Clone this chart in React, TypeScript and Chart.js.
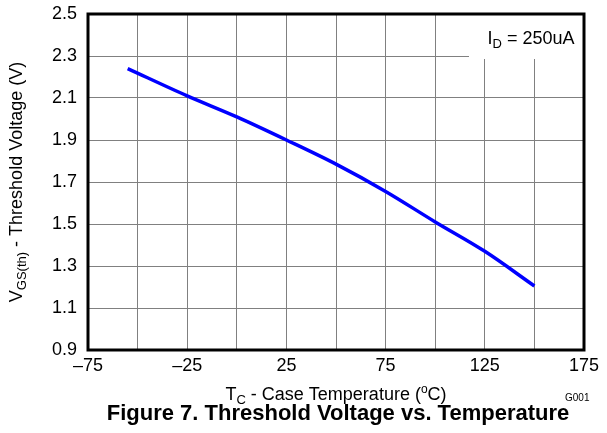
import React, { useEffect, useRef } from "react";
import { Chart, registerables } from "chart.js";

Chart.register(...registerables);

const temps = [-55, -25, 0, 25, 50, 75, 100, 125, 150];
const vth = [2.24, 2.11, 2.01, 1.9, 1.785, 1.655, 1.51, 1.37, 1.205];
const xTickValues = [-75, -25, 25, 75, 125, 175];
const xTickLabels = ["\u201375", "\u201325", "25", "75", "125", "175"];
const yMin = 0.9;
const yMax = 2.5;
const yStep = 0.2;
const xMin = -75;
const xMax = 175;
const xStep = 25;

const FONT = "'Liberation Sans', Arial, sans-serif";

function drawPieces(ctx: CanvasRenderingContext2D, pieces: { t: string; size: number; dy: number; bold?: boolean }[], cx: number, baseY: number) {
  let total = 0;
  for (const p of pieces) {
    ctx.font = `${p.bold ? "bold " : ""}${p.size}px ${FONT}`;
    total += ctx.measureText(p.t).width;
  }
  let x = cx - total / 2;
  for (const p of pieces) {
    ctx.font = `${p.bold ? "bold " : ""}${p.size}px ${FONT}`;
    ctx.fillText(p.t, x, baseY + p.dy);
    x += ctx.measureText(p.t).width;
  }
}

const decorPlugin = {
  id: "decor",
  beforeDatasetsDraw(chart: any) {
    const { ctx, chartArea } = chart;
    ctx.save();
    ctx.fillStyle = "#ffffff";
    ctx.fillRect(chartArea.right - 115, chartArea.top, 115, 45);
    ctx.restore();
  },
  afterDraw(chart: any) {
    const { ctx, chartArea } = chart;
    ctx.save();
    ctx.strokeStyle = "#000000";
    ctx.lineWidth = 3;
    ctx.strokeRect(chartArea.left, chartArea.top, chartArea.right - chartArea.left, chartArea.bottom - chartArea.top);

    ctx.fillStyle = "#000000";
    ctx.textBaseline = "alphabetic";
    ctx.textAlign = "left";
    const cx = (chartArea.left + chartArea.right) / 2;

    // legend text
    drawPieces(
      ctx,
      [
        { t: "I", size: 18, dy: 0 },
        { t: "D", size: 13, dy: 4 },
        { t: " = 250uA", size: 18, dy: 0 },
      ],
      chartArea.right - 53,
      chartArea.top + 30
    );

    // x title
    drawPieces(
      ctx,
      [
        { t: "T", size: 18, dy: 0 },
        { t: "C", size: 13, dy: 4 },
        { t: " - Case Temperature (", size: 18, dy: 0 },
        { t: "o", size: 12, dy: -7 },
        { t: "C)", size: 18, dy: 0 },
      ],
      cx,
      400
    );

    // caption
    drawPieces(ctx, [{ t: "Figure 7. Threshold Voltage vs. Temperature", size: 22, dy: 0, bold: true }], cx + 2, 420);

    // G001
    ctx.font = `10px ${FONT}`;
    ctx.fillText("G001", 565, 401);

    // y title
    ctx.translate(16, (chartArea.top + chartArea.bottom) / 2);
    ctx.rotate(-Math.PI / 2);
    drawPieces(
      ctx,
      [
        { t: "V", size: 18, dy: 0 },
        { t: "GS(th)", size: 13, dy: 4 },
        { t: " - Threshold Voltage (V)", size: 18, dy: 0 },
      ],
      0,
      6
    );
    ctx.restore();
  },
};

export default function App() {
  const ref = useRef<HTMLCanvasElement>(null);
  useEffect(() => {
    document.body.style.margin = "0";
    const canvas = ref.current!;
    const chart = new Chart(canvas, {
      type: "line",
      data: {
        datasets: [
          {
            data: temps.map((t, i) => ({ x: t, y: vth[i] })),
            borderColor: "#0000FF",
            borderWidth: 3.5,
            pointRadius: 0,
            cubicInterpolationMode: "monotone",
            fill: false,
          },
        ],
      },
      options: {
        animation: false,
        responsive: false,
        devicePixelRatio: 1,
        layout: { padding: { left: 0, top: 14, right: 23, bottom: 0 } },
        plugins: { legend: { display: false }, tooltip: { enabled: false } },
        scales: {
          x: {
            type: "linear",
            min: xMin,
            max: xMax,
            ticks: {
              stepSize: xStep,
              autoSkip: false,
              maxRotation: 0,
              padding: 5,
              color: "#000",
              font: { family: FONT, size: 18 },
              callback: (v: any) => {
                const i = xTickValues.indexOf(Number(v));
                return i >= 0 ? xTickLabels[i] : "";
              },
            },
            grid: { color: "#808080", lineWidth: 1, drawTicks: false },
            border: { display: false },
            afterFit: (s: any) => {
              s.height = 83;
              s.paddingLeft = 0;
              s.paddingRight = 0;
            },
          },
          y: {
            type: "linear",
            min: yMin,
            max: yMax,
            ticks: {
              stepSize: yStep,
              autoSkip: false,
              padding: 11,
              color: "#000",
              font: { family: FONT, size: 18 },
              callback: (v: any) => Number(v).toFixed(1),
            },
            grid: { color: "#808080", lineWidth: 1, drawTicks: false },
            border: { display: false },
            afterFit: (s: any) => {
              s.width = 88;
              s.paddingTop = 0;
              s.paddingBottom = 0;
            },
          },
        },
      },
      plugins: [decorPlugin],
    } as any);
    return () => chart.destroy();
  }, []);
  return <canvas ref={ref} width={607} height={433} style={{ display: "block" }} />;
}
